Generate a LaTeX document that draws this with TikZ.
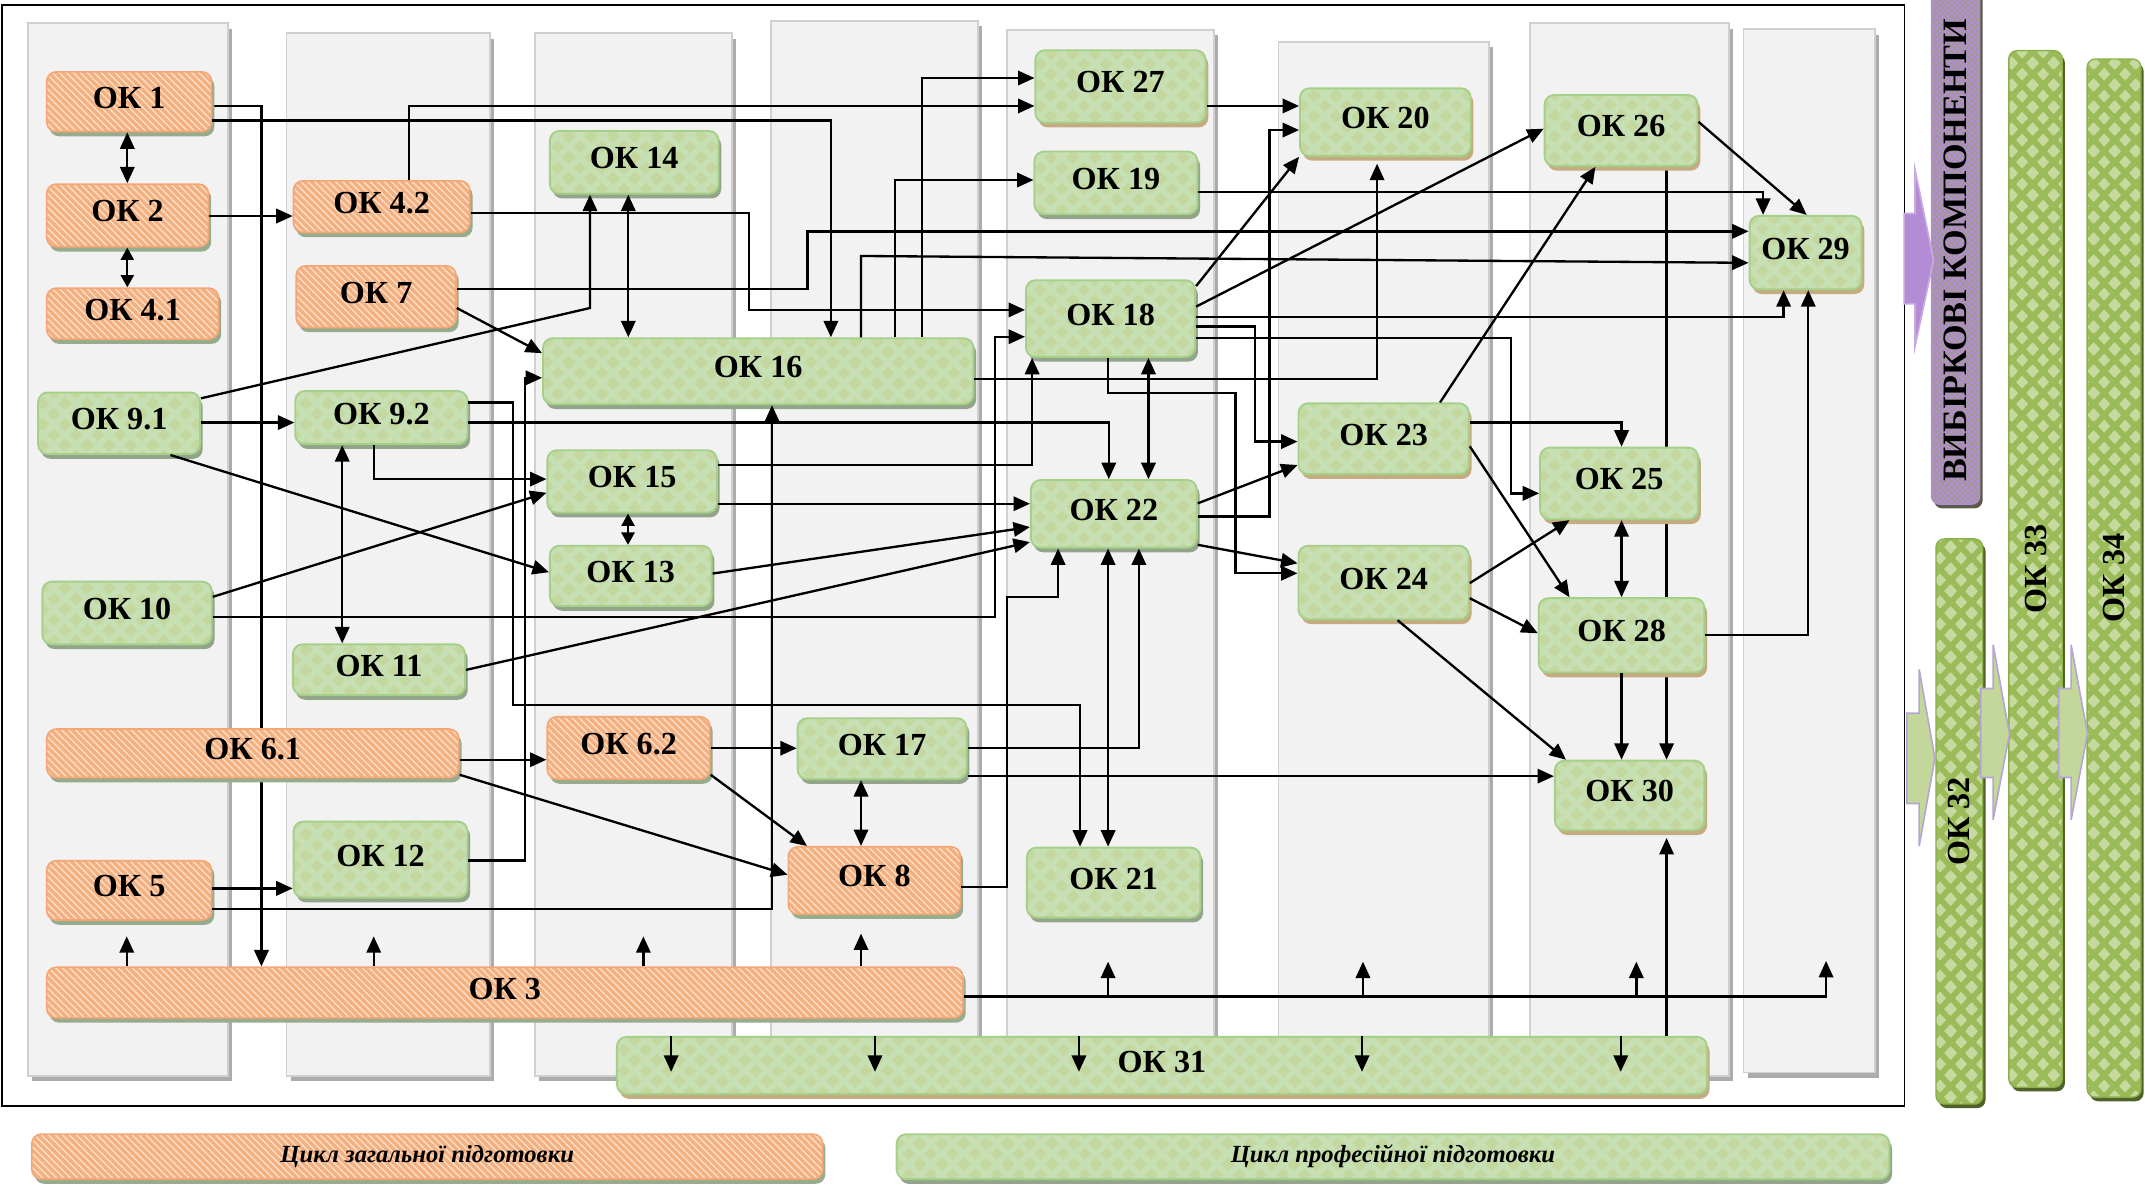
\documentclass[tikz,border=0pt]{standalone}
\usepackage{fontspec}
\usepackage{graphicx}
\setmainfont{Liberation Serif}
\usetikzlibrary{arrows.meta,patterns,patterns.meta,shadows,calc}
\definecolor{colfill}{RGB}{242,242,242}
\definecolor{colborder}{RGB}{208,208,208}
\definecolor{colshadow}{RGB}{172,172,172}
\definecolor{ofill}{RGB}{245,176,128}
\definecolor{oborder}{RGB}{244,166,118}
\definecolor{ostripe}{RGB}{253,228,210}
\definecolor{oshadow}{RGB}{150,172,140}
\definecolor{gfill}{RGB}{198,224,180}
\definecolor{gdiam}{RGB}{196,215,158}
\definecolor{gborder}{RGB}{166,208,138}
\definecolor{gshadow}{RGB}{146,164,138}
\definecolor{tshadow}{RGB}{196,172,128}
\definecolor{dgfill}{RGB}{155,187,89}
\definecolor{dgdiam}{RGB}{198,217,158}
\definecolor{dgborder}{RGB}{140,176,76}
\definecolor{dgshadow}{RGB}{79,98,40}
\definecolor{pfill}{RGB}{180,140,214}
\definecolor{phatch}{RGB}{150,160,115}
\definecolor{pshadow}{RGB}{90,90,72}
\definecolor{arrfill}{RGB}{196,215,155}
\definecolor{arrborder}{RGB}{180,165,210}
\newcommand{\okdmd}[4]{\pgfpathmoveto{\pgfpoint{#1-#3}{#2}}\pgfpathlineto{\pgfpoint{#1}{#2+#4}}\pgfpathlineto{\pgfpoint{#1+#3}{#2}}\pgfpathlineto{\pgfpoint{#1}{#2-#4}}\pgfpathclose}
\pgfdeclarepatternformonly{argyle}{\pgfqpoint{0pt}{0pt}}{\pgfqpoint{16pt}{15pt}}{\pgfqpoint{16pt}{15pt}}{%
 \okdmd{0pt}{0pt}{4.7pt}{4.5pt}\okdmd{16pt}{0pt}{4.7pt}{4.5pt}\okdmd{0pt}{15pt}{4.7pt}{4.5pt}\okdmd{16pt}{15pt}{4.7pt}{4.5pt}\okdmd{8pt}{7.5pt}{4.7pt}{4.5pt}\pgfusepath{fill}}
\pgfdeclarepatternformonly{bardiam}{\pgfqpoint{0pt}{0pt}}{\pgfqpoint{15pt}{16pt}}{\pgfqpoint{15pt}{16pt}}{%
 \okdmd{0pt}{0pt}{4.4pt}{4.8pt}\okdmd{15pt}{0pt}{4.4pt}{4.8pt}\okdmd{0pt}{16pt}{4.4pt}{4.8pt}\okdmd{15pt}{16pt}{4.4pt}{4.8pt}\okdmd{7.5pt}{8pt}{4.4pt}{4.8pt}\pgfusepath{fill}}
\pgfdeclarelayer{back}
\pgfdeclarelayer{under}
\pgfsetlayers{back,under,main}
\begin{document}
\begin{tikzpicture}[x=1pt,y=-1pt,
 >={Triangle[length=12pt,width=10.5pt]},
 conn/.style={draw=black,line width=1.7pt},
 shorttips/.style={>={Triangle[length=9pt,width=9.5pt]}},
 colbox/.style={fill=colfill,draw=colborder,line width=1.3pt},
 okbase/.style={rounded corners=7pt,anchor=north west,inner sep=0pt,font=\bfseries\fontsize{23.5}{27}\selectfont,text=black},
 lift/.style={text height=15.5pt,text depth=6pt},
 oko/.style={okbase,lift,drop shadow={shadow xshift=2pt,shadow yshift=-3.5pt,fill=oshadow,opacity=1},preaction={fill=ofill},pattern={Lines[angle=-45,distance=3.6pt,line width=0.9pt]},pattern color=ostripe,draw=oborder,line width=1.2pt},
 okg/.style={okbase,lift,drop shadow={shadow xshift=2pt,shadow yshift=-3.5pt,fill=#1,opacity=1},preaction={fill=gfill},pattern=argyle,pattern color=gdiam,draw=gborder,line width=1.4pt},
 okg/.default=gshadow,
 vbar/.style={okbase,rounded corners=6pt,drop shadow={shadow xshift=2pt,shadow yshift=-3pt,fill=dgshadow,opacity=1},preaction={fill=dgfill},pattern=bardiam,pattern color=dgdiam,draw=dgborder,line width=1pt},
 pbar/.style={okbase,rounded corners=6pt,drop shadow={shadow xshift=2pt,shadow yshift=-3pt,fill=pshadow,opacity=1},preaction={fill=pfill},pattern={Hatch[angle=45,distance=3pt,line width=0.45pt]},pattern color=phatch,draw=pfill,line width=0.8pt},
 blockarr/.style={fill=arrfill,draw=arrborder,line width=1.2pt,line join=miter},
 legtext/.style={font=\bfseries\itshape\fontsize{18}{22}\selectfont,text height=12pt,text depth=4pt}
]
\useasboundingbox (0,0) rectangle (1567,865);
\begin{pgfonlayer}{back}
\draw[line width=1.2pt] (1.3,3.7) rectangle (1391.2,807.9);
\foreach \xa/\ya/\xb/\yb in {20.5/17/166.6/786, 209.3/24.3/358.2/786, 391/24.3/535/786, 563.3/15.1/714.2/786, 735.5/21.9/886.7/786, 934/30.4/1087.5/786, 1117.6/17/1263/786, 1273.6/21.4/1370/783.5}{
 \fill[colshadow] (\xa+3,\ya+4) rectangle (\xb+3,\yb+4);
 \path[colbox] (\xa,\ya) rectangle (\xb,\yb);
}
\end{pgfonlayer}
% general-cycle nodes
\node[oko,minimum width=120.5pt,minimum height=43.6pt] (n1) at (33.5,51.9) {ОК 1};
\node[oko,minimum width=118.2pt,minimum height=45.8pt] (n2) at (33.5,133.9) {ОК 2};
\node[oko,minimum width=125.5pt,minimum height=37.2pt] (n41) at (33.5,209.9) {ОК 4.1};
\node[oko,minimum width=128.8pt,minimum height=37.7pt] (n42) at (213.8,131.5) {ОК 4.2};
\node[oko,minimum width=116.7pt,minimum height=45pt] (n7) at (215.8,193.6) {ОК 7};
\node[oko,minimum width=301.1pt,minimum height=35.4pt] (n61) at (33.5,532) {ОК 6.1};
\node[oko,minimum width=120.5pt,minimum height=43.3pt] (n5) at (33.5,628.2) {ОК 5};
\node[oko,minimum width=669.4pt,minimum height=37pt] (n3) at (33.5,706) {ОК 3};
\node[oko,minimum width=118.8pt,minimum height=45.5pt] (n62) at (399.2,523) {ОК 6.2};
\node[oko,minimum width=125.7pt,minimum height=49.2pt] (n8) at (575.3,618) {ОК 8};
% professional-cycle nodes
\node[okg,minimum width=118.2pt,minimum height=45pt] (n91) at (27.2,286) {ОК 9.1};
\node[okg,minimum width=125.8pt,minimum height=38.8pt] (n92) at (215,285) {ОК 9.2};
\node[okg,minimum width=123.8pt,minimum height=45.8pt] (n10) at (30.2,424.2) {ОК 10};
\node[okg,minimum width=125.7pt,minimum height=37pt] (n11) at (213.3,470) {ОК 11};
\node[okg,minimum width=127pt,minimum height=55.5pt] (n12) at (213.8,599.5) {ОК 12};
\node[okg,minimum width=123.2pt,minimum height=45.8pt] (n14) at (401,95) {ОК 14};
\node[okg,minimum width=314.4pt,minimum height=48.2pt] (n16) at (396,246.4) {ОК 16};
\node[okg,minimum width=123.8pt,minimum height=45.6pt] (n15) at (399.2,328.2) {ОК 15};
\node[okg,minimum width=118.2pt,minimum height=44pt] (n13) at (401,398) {ОК 13};
\node[okg,minimum width=123.4pt,minimum height=44.5pt] (n17) at (582,524) {ОК 17};
\node[okg=tshadow,minimum width=124.3pt,minimum height=52.9pt] (n27) at (755.7,36) {ОК 27};
\node[okg,minimum width=119pt,minimum height=45.8pt] (n19) at (755,110) {ОК 19};
\node[okg,minimum width=123.6pt,minimum height=56pt] (n18) at (748.8,204) {ОК 18};
\node[okg,minimum width=121.2pt,minimum height=49.3pt] (n22) at (752.4,350) {ОК 22};
\node[okg,minimum width=126.7pt,minimum height=51.1pt] (n21) at (749.5,618.5) {ОК 21};
\node[okg=tshadow,minimum width=124.7pt,minimum height=49.4pt] (n20) at (949,63.8) {ОК 20};
\node[okg=tshadow,minimum width=124.4pt,minimum height=51.7pt] (n23) at (947.9,294) {ОК 23};
\node[okg=tshadow,minimum width=124.4pt,minimum height=53.7pt] (n24) at (947.9,398) {ОК 24};
\node[okg=tshadow,minimum width=111.7pt,minimum height=51.8pt] (n26) at (1127.7,68.7) {ОК 26};
\node[okg=tshadow,minimum width=115.4pt,minimum height=52.3pt] (n25) at (1124.4,326.3) {ОК 25};
\node[okg=tshadow,minimum width=121pt,minimum height=54.3pt] (n28) at (1123.4,436.3) {ОК 28};
\node[okg=tshadow,minimum width=109.2pt,minimum height=50.8pt] (n30) at (1135.2,555) {ОК 30};
\node[okg=tshadow,minimum width=81.8pt,minimum height=53.6pt] (n29) at (1277.4,157) {ОК 29};
\node[okg=tshadow,minimum width=796.2pt,minimum height=41.8pt] (n31) at (450,756.8) {ОК 31};
% right-hand bars
\node[pbar,minimum width=35.5pt,minimum height=395pt,font=\bfseries\fontsize{25}{28}\selectfont] (vk) at (1410.5,-27) {\rotatebox{90}{ВИБІРКОВІ КОМПОНЕНТИ\hspace*{24pt}}};
\node[vbar,minimum width=34.2pt,minimum height=412.8pt] (n32) at (1413.8,393.2) {\rotatebox{90}{ОК 32}};
\node[vbar,minimum width=39pt,minimum height=757.3pt] (n33) at (1467,36.5) {\rotatebox{90}{ОК 33}};
\node[vbar,minimum width=39.3pt,minimum height=758.4pt] (n34) at (1524.2,42.6) {\rotatebox{90}{ОК 34}};
\draw[blockarr,fill=pfill,draw={rgb,255:red,200;green,170;blue,225}] (1391,156) -- (1399,156) -- (1399,124) -- (1412.5,190) -- (1399,253) -- (1399,222) -- (1391,222) -- cycle;
\draw[blockarr] (1393,521) -- (1402,521) -- (1402,489) -- (1413.5,554) -- (1402,618) -- (1402,587) -- (1393,587) -- cycle;
\draw[blockarr] (1447,503) -- (1456,503) -- (1456,471) -- (1468,536) -- (1456,599) -- (1456,568) -- (1447,568) -- cycle;
\draw[blockarr] (1504,503) -- (1513,503) -- (1513,471) -- (1525,536) -- (1513,599) -- (1513,568) -- (1504,568) -- cycle;
% legend
\node[oko,legtext,minimum width=577.8pt,minimum height=32.8pt] (lg1) at (22.6,827.9) {Цикл загальної підготовки};
\node[okg,legtext,minimum width=725.2pt,minimum height=32.8pt] (lg2) at (654.3,827.9) {Цикл професійної підготовки};
% connectors hidden behind nodes
\begin{pgfonlayer}{under}
\draw[conn,->] (n1.east |- 0,77.4) -| (n3.north -| 191,0);
\draw[conn,->] (n26.south -| 1217.5,0) -- (n30.north -| 1217.5,0);
\end{pgfonlayer}
% connectors
\draw[conn,->] (n1.east |- 0,88) -| (n16.north -| 607,0);
\draw[conn,<->] (n1.south -| 93,0) -- (n2.north -| 93,0);
\draw[conn,<->,shorttips] (n2.south -| 93,0) -- (n41.north -| 93,0);
\draw[conn,->] (n2.east |- 0,157.8) -- (n42.west |- 0,157.8);
\draw[conn,->] (n42.north -| 298.6,0) |- (n27.west |- 0,77.4);
\draw[conn,->] (n42.east |- 0,155.8) -- (547,155.8) |- (n18.west |- 0,226.4);
\draw[conn,->] (n7.east |- 0,211) -- (590,211) |- (n29.west |- 0,169);
\draw[conn,->] (n7.east |- 0,225) -- (n16.west |- 0,258);
\draw[conn,->] (n91.east |- 0,291) -- (431,225) -- (n14.south -| 431,0);
\draw[conn,<->] (n14.south -| 459,0) -- (n16.north -| 459,0);
\draw[conn,->] (n16.north -| 673.5,0) |- (n27.west |- 0,57);
\draw[conn,->] (n16.north -| 654,0) |- (n19.west |- 0,131.5);
\draw[conn,->] (n16.north -| 629,0) -- (629,187) -- (n29.west |- 0,192);
\draw[conn,->,shorten >=5pt] (n16.east |- 0,277) -| (n20.south -| 1006,0);
\draw[conn,->] (n10.east |- 0,450.5) -- (727,450.5) |- (n18.west |- 0,246);
\draw[conn,->] (n15.east |- 0,339.7) -| (n18.south -| 754,0);
\draw[conn,->] (n15.east |- 0,368) -- (n22.west |- 0,368);
\draw[conn,->] (n13.east |- 0,419) -- (n22.west |- 0,385);
\draw[conn,->] (n11.east |- 0,489.4) -- (n22.west |- 0,396);
\draw[conn,->] (n92.east |- 0,294) -- (375,294) -- (375,515) -| (n21.north -| 789,0);
\draw[conn,->] (n92.east |- 0,308.7) -| (n22.north -| 810,0);
\draw[conn,->] (n92.south -| 273,0) |- (n15.west |- 0,350);
\draw[conn,<->] (n92.south -| 250,0) -- (n11.north -| 250,0);
\draw[conn,->] (n91.east |- 0,308.7) -- (n92.west |- 0,308.7);
\draw[conn,->] (n91.south -| 124.5,0) -- (n13.west |- 0,418);
\draw[conn,->] (n10.east |- 0,436) -- (n15.west |- 0,360);
\draw[conn,->] (n61.east |- 0,555) -- (n62.west |- 0,555);
\draw[conn,->] (n61.east |- 0,566) -- (n8.west |- 0,639);
\draw[conn,->] (n62.east |- 0,546.6) -- (n17.west |- 0,546.6);
\draw[conn,->] (n62.east |- 0,566) -- (n8.north -| 589.5,0);
\draw[conn,<->] (n17.south -| 629,0) -- (n8.north -| 629,0);
\foreach \xx/\yy in {92.6/684,273/684,470/684,629/682} \draw[conn,->] (n3.north -| \xx,0) -- (\xx,\yy);
\draw[conn,->] (n5.east |- 0,649) -- (n12.west |- 0,649);
\draw[conn,->] (n5.east |- 0,664) -- (564,664) -- (n16.south -| 564,0);
\draw[conn,->] (n12.east |- 0,628.7) -- (383.6,628.7) |- (n16.west |- 0,276);
\draw[conn,->] (n8.east |- 0,648) -- (735.5,648) -- (735.5,436) -| (n22.south -| 773,0);
\draw[conn,->] (n17.east |- 0,546.6) -| (n22.south -| 832,0);
\draw[conn,->] (n17.east |- 0,567) -- (n30.west |- 0,567);
\draw[conn,<->] (n22.south -| 809.5,0) -- (n21.north -| 809.5,0);
\draw[conn,<->] (n18.south -| 839,0) -- (n22.north -| 839,0);
\draw[conn,->] (n18.east |- 0,209) -- (n20.south west);
\draw[conn,->] (n18.east |- 0,224) -- (n26.west |- 0,94);
\draw[conn,->] (n18.east |- 0,231.5) -| (n29.south -| 1303,0);
\draw[conn,->] (n18.east |- 0,238.6) -- (917,238.6) |- (n23.west |- 0,322.6);
\draw[conn,->] (n18.east |- 0,247) -- (1104,247) |- (n25.west |- 0,360.4);
\draw[conn,->] (n18.south -| 809.4,0) -- (809.4,287.3) -- (902.6,287.3) |- (n24.west |- 0,418.8);
\draw[conn,->] (n22.east |- 0,377.4) -- (927.3,377.4) |- (n20.west |- 0,95);
\draw[conn,->] (n27.east |- 0,77.4) -- (n20.west |- 0,77.4);
\draw[conn,->] (n22.east |- 0,367.7) -- (n23.west |- 0,339.7);
\draw[conn,->] (n22.east |- 0,398) -- (n24.west |- 0,411.5);
\draw[conn,->] (n23.north -| 1052,0) -- (n26.south -| 1165.5,0);
\draw[conn,->] (n23.east |- 0,308.7) -| (n25.north -| 1184.6,0);
\draw[conn,->] (n23.east |- 0,326) -- (n28.north -| 1146.6,0);
\draw[conn,->] (n24.east |- 0,426) -- (n25.south -| 1146.6,0);
\draw[conn,->] (n24.east |- 0,437) -- (n28.west |- 0,462.6);
\draw[conn,->] (n24.south -| 1021,0) -- (n30.north -| 1144,0);
\draw[conn,<->] (n25.south -| 1184.6,0) -- (n28.north -| 1184.6,0);
\draw[conn,->] (n28.south -| 1184.6,0) -- (n30.north -| 1184.6,0);
\draw[conn,->] (n28.east |- 0,463.8) -| (n29.south -| 1321,0);
\draw[conn,->] (n26.east |- 0,89) -- (n29.north -| 1319.8,0);
\draw[conn,->] (n19.east |- 0,140.5) -| (n29.north -| 1288,0);
\draw[conn,->] (n3.east |- 0,728) -| (1334,702);
\foreach \xx in {809.5,995.7,1195.4} \draw[conn,->] (\xx,728) -- (\xx,702.5);
\draw[conn,->,shorten >=5pt] (n31.north -| 1217.5,0) -- (n30.south -| 1217.5,0);
\foreach \xx in {490.3,639.2,788.2,995,1184} \draw[conn,->] (n31.north -| \xx,0) -- (\xx,783);
\draw[conn,<->,shorttips] (n15.south -| 458.8,0) -- (n13.north -| 458.8,0);
\end{tikzpicture}
\end{document}
